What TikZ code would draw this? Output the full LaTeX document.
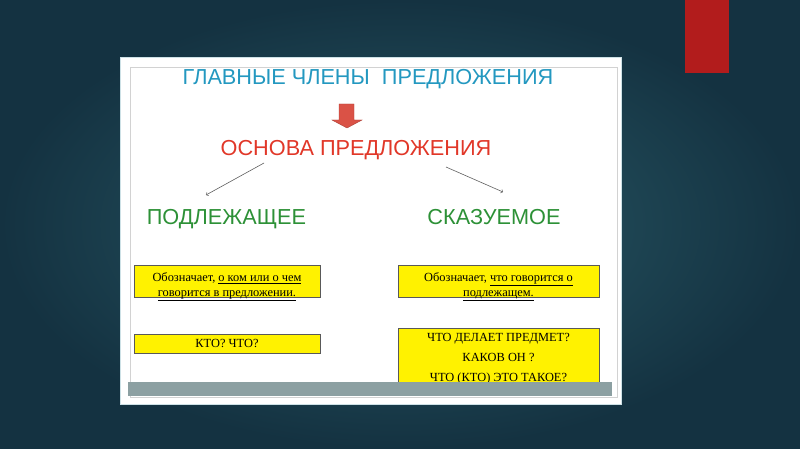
\documentclass[tikz,border=0pt]{standalone}
\usepackage{fontspec}
\setmainfont{Liberation Serif}
\newfontfamily\headfont{Liberation Sans}
\usepackage{tikz}

\definecolor{bgin}{RGB}{42,92,105}
\definecolor{bgout}{RGB}{20,50,65}
\definecolor{titleblue}{RGB}{35,152,192}
\definecolor{basered}{RGB}{225,55,40}
\definecolor{termgreen}{RGB}{45,145,55}
\definecolor{arrowred}{RGB}{218,82,70}
\definecolor{barred}{RGB}{178,28,28}
\definecolor{bargray}{RGB}{140,160,162}

\begin{document}
\begin{tikzpicture}[x=1pt,y=-1pt,
  head/.style={font=\headfont\fontsize{21.7}{24}\selectfont, anchor=base},
  card/.style={draw=gray!70!black, line width=0.6pt, fill=yellow, align=center, inner sep=0pt,
    font=\fontsize{12.4}{15}\selectfont}]
\useasboundingbox (0,0) rectangle (800,449);
\shade[inner color=bgin, outer color=bgout] (0,0) rectangle (800,449);
\fill[barred] (685,0) rectangle (729,73);

% slide
\draw[fill=white, draw={rgb,255:red,205;green,225;blue,230}, line width=1pt] (120,58) rectangle (621,404);
\draw[gray!35, line width=0.5pt] (130,67) rectangle (617,397);

\node[head, text=titleblue] (title) at (368,85) {ГЛАВНЫЕ ЧЛЕНЫ \ ПРЕДЛОЖЕНИЯ};
\draw[fill=arrowred, draw=arrowred!80!black, line width=0.4pt] (339,104) -- (354,104) -- (354,120) -- (362,120) -- (347,128) -- (332,120) -- (339,120) -- cycle;
\node[head, text=basered] (base) at (356,156) {ОСНОВА ПРЕДЛОЖЕНИЯ};

\node[head, text=termgreen] (subj) at (226.5,225) {ПОДЛЕЖАЩЕЕ};
\node[head, text=termgreen] (pred) at (494,225) {СКАЗУЕМОЕ};
\draw[->, gray!75!black, line width=0.6pt] ([xshift=-92pt, yshift=-7pt]base.base) -- ([xshift=-20.5pt, yshift=30pt]subj.base);
\draw[->, gray!75!black, line width=0.6pt] ([xshift=90pt, yshift=-11pt]base.base) -- ([xshift=9pt, yshift=33pt]pred.base);

% boxes
\node[card, minimum width=186pt, minimum height=32pt] (subjmean) at (227,281) {\rule{0pt}{15.5pt}Обозначает, \underline{о ком или о чем} \\ \smash{\underline{говорится в предложении.}}};
\node[card, minimum width=201pt, minimum height=32pt] (predmean) at (498.5,281) {\rule{0pt}{15.5pt}Обозначает, \underline{что говорится о} \\ \smash{\underline{подлежащем.}}};
\node[card, minimum width=186pt, minimum height=19pt] (subjq) at (227,343.5) {КТО? ЧТО?};
\node[card, minimum width=201pt, minimum height=62pt, font=\fontsize{12.4}{20}\selectfont] (predq) at (498.5,359) {ЧТО ДЕЛАЕТ ПРЕДМЕТ? \\ КАКОВ ОН ? \\ ЧТО (КТО) ЭТО ТАКОЕ?};

\fill[bargray] (128,382) rectangle (612,396);
\end{tikzpicture}
\end{document}
